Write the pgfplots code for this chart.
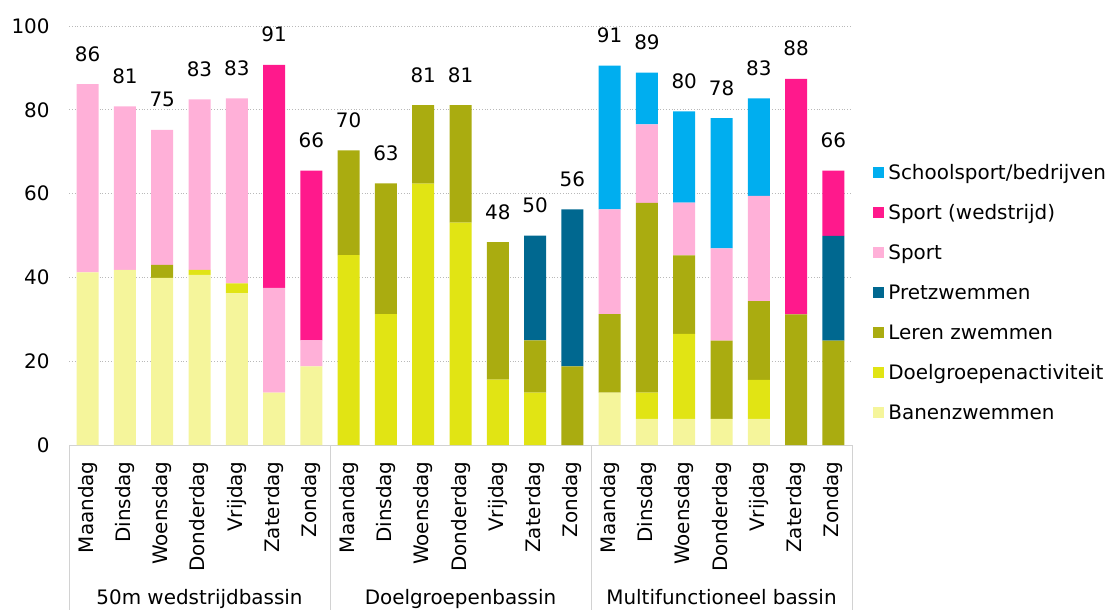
\documentclass[border=0pt]{standalone}
\usepackage{pgfplots}
\pgfplotsset{compat=1.18}
\usepackage{pgfplotstable}
\usepackage{fontspec}
\setmainfont{DejaVu Sans}
\newcommand\fsz{\fontsize{10}{12}\selectfont}

\definecolor{cBan}{RGB}{245,245,155}
\definecolor{cDoel}{RGB}{225,228,20}
\definecolor{cLeren}{RGB}{170,172,16}
\definecolor{cPretz}{RGB}{0,104,144}
\definecolor{cSport}{RGB}{255,176,216}
\definecolor{cSportW}{RGB}{255,25,140}
\definecolor{cSchool}{RGB}{0,174,239}

% bezetting per dag, drie baden
\pgfplotstableread{
x  ban   doel  leren pretz sport sportw school tot   lbl
0  41.2  0     0     0     44.9  0      0      86.1  86
1  41.8  0     0     0     39.0  0      0      80.8  81
2  39.9  0     3.1   0     32.2  0      0      75.2  75
3  40.6  1.2   0     0     40.7  0      0      82.5  83
4  36.2  2.4   0     0     44.1  0      0      82.7  83
5  12.5  0     0     0     25.0  53.2   0      90.7  91
6  18.75 0     0     0     6.25  40.5   0      65.5  66
7  0     45.3  25.0  0     0     0      0      70.3  70
8  0     31.25 31.2  0     0     0      0      62.45 63
9  0     62.4  18.7  0     0     0      0      81.1  81
10 0     53.1  28.0  0     0     0      0      81.1  81
11 0     15.6  32.8  0     0     0      0      48.4  48
12 0     12.5  12.5  25.0  0     0      0      50.0  50
13 0     0     18.75 37.5  0     0      0      56.25 56
14 12.5  0     18.75 0     25.0  0      34.3   90.55 91
15 6.25  6.25  45.3  0     18.7  0      12.4   88.9  89
16 6.25  20.3  18.7  0     12.6  0      21.8   79.65 80
17 6.25  0     18.65 0     22.0  0      31.1   78.0  78
18 6.25  9.3   18.8  0     25.1  0      23.3   82.75 83
19 0     0     31.2  0     0     56.2   0      87.4  88
20 0     0     24.9  25.0  0     15.6   0      65.5  66
}\data

\pgfplotsset{
  base/.style={
    scale only axis,
    width=391.5bp, height=209.5bp,
    xmin=-0.5, xmax=20.5,
    ymin=0, ymax=100,
    clip=false,
  },
}

\begin{document}
\fsz
\begin{tikzpicture}
\begin{axis}[
  base, name=ax,
  ybar stacked, bar width=11bp,
  ytick={0,20,...,100},
  xtick={0,...,20},
  xticklabels={Maandag,Dinsdag,Woensdag,Donderdag,Vrijdag,Zaterdag,Zondag,
               Maandag,Dinsdag,Woensdag,Donderdag,Vrijdag,Zaterdag,Zondag,
               Maandag,Dinsdag,Woensdag,Donderdag,Vrijdag,Zaterdag,Zondag},
  major tick length=0pt,
  axis line style={draw=none},
  ymajorgrids,
  grid style={densely dotted, gray!55},
  /pgf/number format/assume math mode=true,
  tick label style={font=\fsz},
  yticklabel style={inner sep=0pt, xshift=-9.5bp},
  xticklabel style={rotate=90, anchor=east, inner sep=0pt},
  xticklabel shift=8bp,
  reverse legend,
  legend cell align=left,
  legend image code/.code={\fill[#1] (0bp,-2.75bp) rectangle (5.5bp,2.75bp);},
  legend style={draw=none, fill=none, font=\fsz, inner sep=0pt,
    row sep=12.7bp, column sep=2bp,
    nodes={inner sep=0pt, text height=7.3bp, text depth=0bp, anchor=west},
    at={(1.0268,0.669)}, anchor=north west},
]
\addplot[fill=cBan, draw=none] table[x=x, y=ban] {\data};
\addplot[fill=cDoel, draw=none] table[x=x, y=doel] {\data};
\addplot[fill=cLeren, draw=none] table[x=x, y=leren] {\data};
\addplot[fill=cPretz, draw=none] table[x=x, y=pretz] {\data};
\addplot[fill=cSport, draw=none] table[x=x, y=sport] {\data};
\addplot[fill=cSportW, draw=none] table[x=x, y=sportw] {\data};
\addplot[fill=cSchool, draw=none] table[x=x, y=school] {\data};
\legend{Banenzwemmen,Doelgroepenactiviteit,Leren zwemmen,Pretzwemmen,Sport,Sport (wedstrijd),Schoolsport/bedrijven}

\draw[gray!35] (rel axis cs:0,0) -- (rel axis cs:1,0);
\draw[gray!35] (axis cs:-0.5,0) -- ([yshift=-82.5bp]axis cs:-0.5,0);
\draw[gray!35] (axis cs:6.5,0) -- ([yshift=-82.5bp]axis cs:6.5,0);
\draw[gray!35] (axis cs:13.5,0) -- ([yshift=-82.5bp]axis cs:13.5,0);
\draw[gray!35] (axis cs:20.5,0) -- ([yshift=-82.5bp]axis cs:20.5,0);
\node[anchor=base, inner sep=0pt] at ([yshift=-79.6bp]axis cs:3,0) {50m wedstrijdbassin};
\node[anchor=base, inner sep=0pt] at ([yshift=-79.6bp]axis cs:10,0) {Doelgroepenbassin};
\node[anchor=base, inner sep=0pt] at ([yshift=-79.6bp]axis cs:17,0) {Multifunctioneel bassin};
\end{axis}

% totalen boven de staven
\begin{axis}[
  base, hide axis,
  at={(ax.south west)}, anchor=south west,
  nodes near coords style={font=\fsz, anchor=base, inner sep=0pt, yshift=11.5bp},
]
\addplot[draw=none, mark=none, nodes near coords, point meta=explicit symbolic]
  table[x=x, y=tot, meta=lbl] {\data};
\end{axis}

\pgfresetboundingbox
\path[use as bounding box] ([xshift=-34.5bp,yshift=-82.5bp]ax.south west)
  rectangle ([xshift=524bp,yshift=222.5bp]ax.south west);
\end{tikzpicture}
\end{document}
